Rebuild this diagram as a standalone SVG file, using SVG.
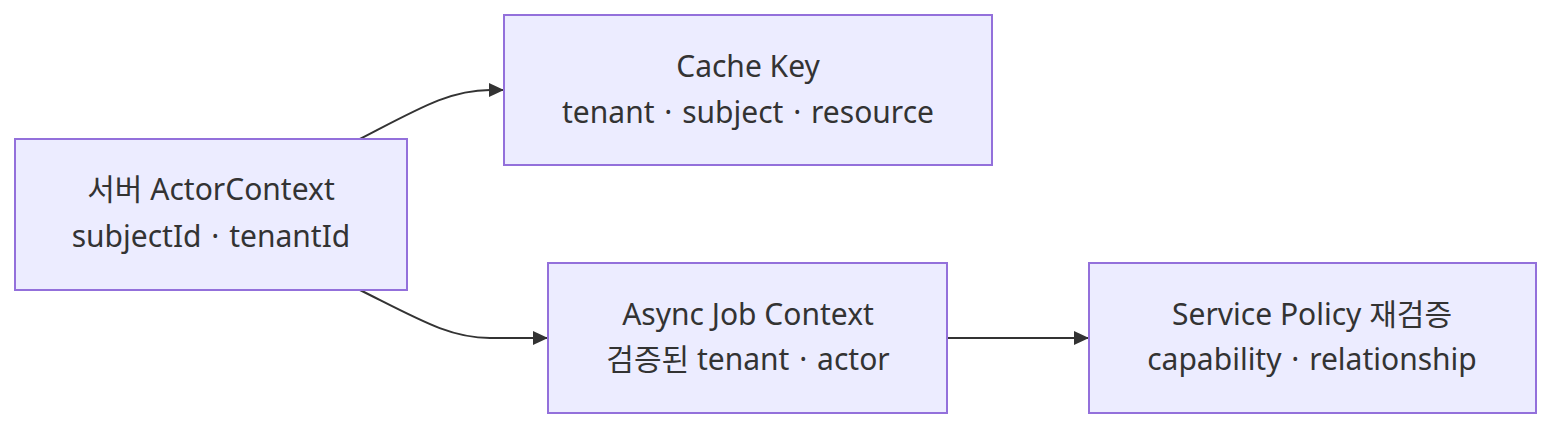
<svg xmlns="http://www.w3.org/2000/svg" width="1568" height="434" viewBox="0 0 1568 434">
<style>
.node rect{fill:#ECECFF;stroke:#9370DB;stroke-width:2}
.node text{font-family:"Noto Sans","Noto Sans CJK KR",sans-serif;font-size:30px;fill:#333;text-anchor:middle}
.edge{fill:none;stroke:#333;stroke-width:2}
</style>
<defs>
<marker id="arr" viewBox="0 0 15 14" refX="14" refY="7" markerWidth="15" markerHeight="14" markerUnits="userSpaceOnUse" orient="auto">
<path d="M0,0 L15,7 L0,14 z" fill="#333"/>
</marker>
</defs>
<rect width="1568" height="434" fill="#fff"/>
<g id="edges">
<path class="edge" d="M360,139 C420,108 450,90 490,90 L503,90" marker-end="url(#arr)"/>
<path class="edge" d="M360,290 C420,320 450,338 490,338 L547,338" marker-end="url(#arr)"/>
<path class="edge" d="M948,338 L1088,338" marker-end="url(#arr)"/>
</g>
<g id="actor" class="node">
<rect x="15" y="139" width="392" height="151"/>
<text x="211" y="200">서버 ActorContext</text>
<text x="211" y="247">subjectId <tspan dx="2">·</tspan><tspan dx="2"> tenantId</tspan></text>
</g>
<g id="cachekey" class="node">
<rect x="504" y="15" width="488" height="150"/>
<text x="748" y="77">Cache Key</text>
<text x="748" y="123">tenant <tspan dx="2">·</tspan><tspan dx="2"> subject </tspan><tspan dx="2">·</tspan><tspan dx="2"> resource</tspan></text>
</g>
<g id="asyncjob" class="node">
<rect x="548" y="263" width="399" height="150"/>
<text x="748" y="325">Async Job Context</text>
<text x="748" y="370">검증된 tenant <tspan dx="2">·</tspan><tspan dx="2"> actor</tspan></text>
</g>
<g id="policy" class="node">
<rect x="1089" y="263" width="447" height="150"/>
<text x="1312" y="325">Service Policy 재검증</text>
<text x="1312" y="370">capability <tspan dx="2">·</tspan><tspan dx="2"> relationship</tspan></text>
</g>
</svg>
